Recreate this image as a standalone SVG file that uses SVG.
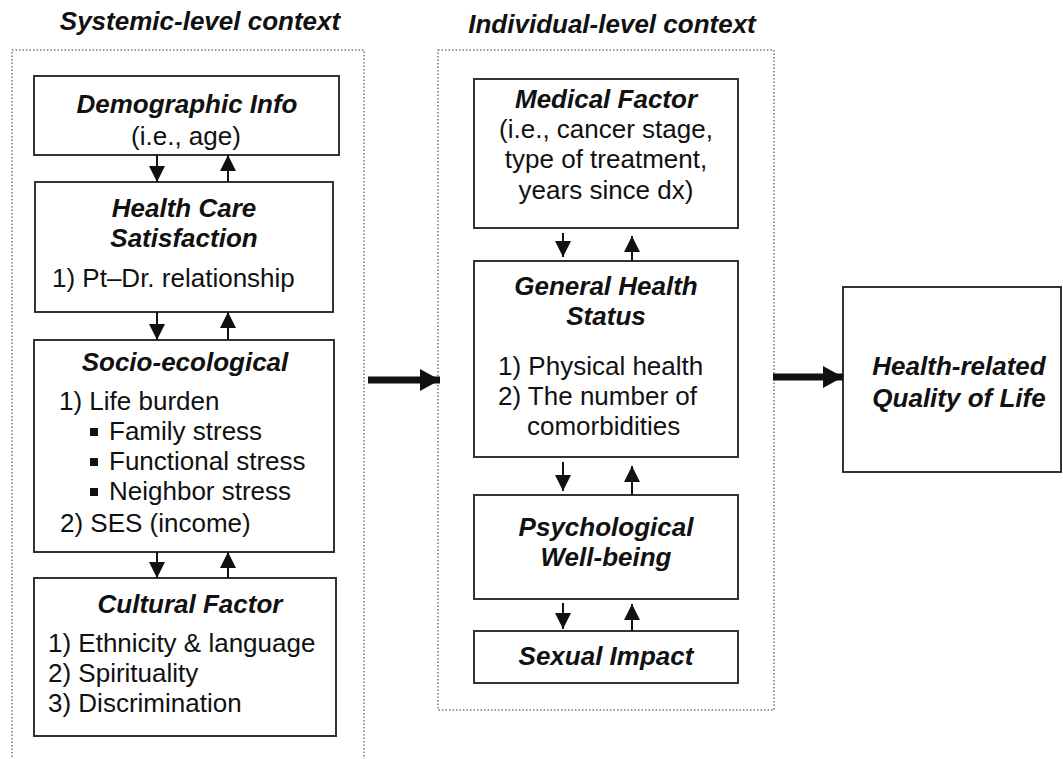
<svg xmlns="http://www.w3.org/2000/svg" width="1063" height="759" viewBox="0 0 1063 759">
<defs>
<style>
.box{fill:#fff;stroke:#333;stroke-width:2}
.ctr{fill:none;stroke:#777;stroke-width:1.5;stroke-dasharray:1.5 2}
text{font-family:"Liberation Sans",Arial,sans-serif;font-size:26px;fill:#111}
.h{font-weight:bold;font-style:italic}
.c{text-anchor:middle}
.ln{stroke:#111;stroke-width:2}
.big{stroke:#111;stroke-width:7}
</style>
<marker id="ah" markerWidth="16" markerHeight="16" refX="16" refY="8" orient="auto" markerUnits="userSpaceOnUse" viewBox="0 0 16 16">
<path d="M0,0 L16,8 L0,16 Z" fill="#111"/>
</marker>
<marker id="bh" markerWidth="20" markerHeight="22" refX="20" refY="11" orient="auto" markerUnits="userSpaceOnUse" viewBox="0 0 20 22">
<path d="M0,0 L20,11 L0,22 Z" fill="#111"/>
</marker>
</defs>
<rect width="1063" height="759" fill="#fff"/>

<g id="systemic-context">
<text class="h c" x="200" y="30">Systemic-level context</text>
<rect class="ctr" x="12" y="50" width="352" height="712"/>
</g>
<g id="individual-context">
<text class="h c" x="612" y="33">Individual-level context</text>
<rect class="ctr" x="438" y="50" width="336" height="660"/>
</g>

<g id="demographic">
<rect class="box" x="34" y="76" width="305" height="79"/>
<text class="h c" x="187" y="113">Demographic Info</text>
<text class="c" x="186" y="145">(i.e., age)</text>
</g>
<g id="healthcare">
<rect class="box" x="35" y="182" width="298" height="130"/>
<text class="h c" x="184" y="217">Health Care</text>
<text class="h c" x="184" y="247">Satisfaction</text>
<text x="52" y="287">1) Pt–Dr. relationship</text>
</g>
<g id="socio">
<rect class="box" x="34" y="340" width="300" height="212"/>
<text class="h c" x="185" y="371">Socio-ecological</text>
<text x="59" y="410">1) Life burden</text>
<rect x="90" y="428" width="8" height="8" fill="#111"/>
<text x="109" y="440">Family stress</text>
<rect x="90" y="458" width="8" height="8" fill="#111"/>
<text x="109" y="470">Functional stress</text>
<rect x="90" y="488" width="8" height="8" fill="#111"/>
<text x="109" y="500">Neighbor stress</text>
<text x="60" y="532">2) SES (income)</text>
</g>
<g id="cultural">
<rect class="box" x="34" y="578" width="302" height="158"/>
<text class="h c" x="190" y="613">Cultural Factor</text>
<text x="48" y="652">1) Ethnicity &amp; language</text>
<text x="48" y="682">2) Spirituality</text>
<text x="48" y="712">3) Discrimination</text>
</g>

<g id="medical">
<rect class="box" x="474" y="79" width="264" height="149"/>
<text class="h c" x="606" y="108">Medical Factor</text>
<text class="c" x="606" y="138">(i.e., cancer stage,</text>
<text class="c" x="606" y="168">type of treatment,</text>
<text class="c" x="606" y="199">years since dx)</text>
</g>
<g id="general-health">
<rect class="box" x="474" y="261" width="264" height="196"/>
<text class="h c" x="606" y="295">General Health</text>
<text class="h c" x="606" y="325">Status</text>
<text x="498" y="375">1) Physical health</text>
<text x="498" y="405">2) The number of</text>
<text x="527" y="435">comorbidities</text>
</g>
<g id="psychological">
<rect class="box" x="474" y="495" width="264" height="104"/>
<text class="h c" x="606" y="536">Psychological</text>
<text class="h c" x="606" y="566">Well-being</text>
</g>
<g id="sexual">
<rect class="box" x="474" y="631" width="264" height="52"/>
<text class="h c" x="606" y="665">Sexual Impact</text>
</g>

<g id="hrqol">
<rect class="box" x="843" y="287" width="218" height="185"/>
<text class="h c" x="959" y="375">Health-related</text>
<text class="h c" x="959" y="407">Quality of Life</text>
</g>

<g id="connectors">
<line class="ln" x1="157" y1="155" x2="157" y2="182" marker-end="url(#ah)"/>
<line class="ln" x1="228" y1="182" x2="228" y2="155" marker-end="url(#ah)"/>
<line class="ln" x1="157" y1="312" x2="157" y2="340" marker-end="url(#ah)"/>
<line class="ln" x1="228" y1="340" x2="228" y2="312" marker-end="url(#ah)"/>
<line class="ln" x1="157" y1="552" x2="157" y2="578" marker-end="url(#ah)"/>
<line class="ln" x1="228" y1="578" x2="228" y2="552" marker-end="url(#ah)"/>

<line class="ln" x1="563" y1="233" x2="563" y2="257" marker-end="url(#ah)"/>
<line class="ln" x1="632" y1="261" x2="632" y2="236" marker-end="url(#ah)"/>
<line class="ln" x1="563" y1="462" x2="563" y2="491" marker-end="url(#ah)"/>
<line class="ln" x1="632" y1="495" x2="632" y2="466" marker-end="url(#ah)"/>
<line class="ln" x1="563" y1="603" x2="563" y2="629" marker-end="url(#ah)"/>
<line class="ln" x1="632" y1="631" x2="632" y2="604" marker-end="url(#ah)"/>

<line class="big" x1="368" y1="380" x2="440" y2="380" marker-end="url(#bh)"/>
<line class="big" x1="773" y1="377" x2="843" y2="377" marker-end="url(#bh)"/>
</g>
</svg>
